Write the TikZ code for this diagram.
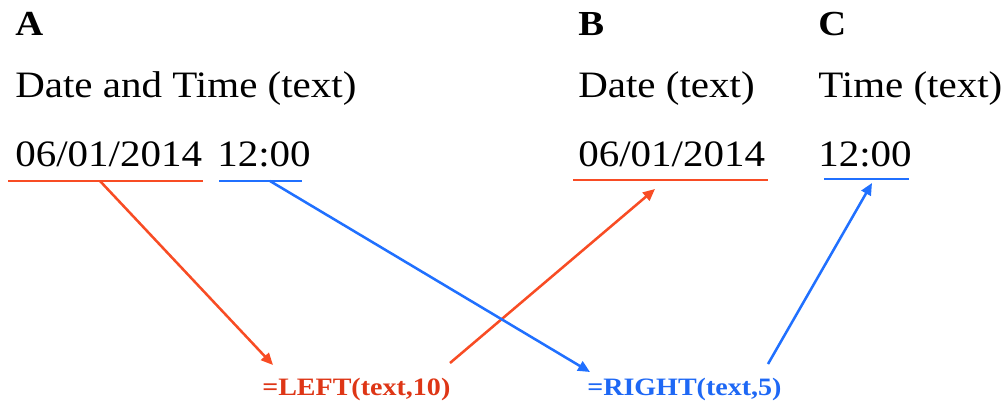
\documentclass[tikz,border=0pt]{standalone}
\usepackage{fontspec}
\setmainfont{Liberation Serif}[FakeStretch=1.1]
\newfontfamily\formfont{Liberation Serif}[FakeStretch=1.12]
\usetikzlibrary{arrows.meta}
\definecolor{cutred}{RGB}{248,76,36}
\definecolor{cutblue}{RGB}{32,112,255}
\definecolor{formred}{RGB}{222,54,22}
\definecolor{formblue}{RGB}{30,104,245}

\begin{document}
\begin{tikzpicture}[x=0.025cm, y=-0.025cm,
  head/.style = {anchor=base west, inner sep=0, font=\fontsize{25}{30}\selectfont\bfseries},
  txt/.style = {anchor=base west, inner sep=0, font=\fontsize{26.5}{32}\selectfont},
  form/.style = {anchor=base west, inner sep=0, font=\formfont\fontsize{17.8}{21}\selectfont\bfseries},
  uline/.style = {line width=2.1pt},
  link/.style = {line width=1.8pt, -{Triangle[length=8.5pt, width=7.5pt]}}]
  \useasboundingbox (0,0) rectangle (1007,404);

  % column heads
  \node[head] (A) at (15,35) {A};
  \node[head] (B) at (578,35) {B};
  \node[head] (C) at (818,35) {C};

  \node[txt] (dtname) at (15,97) {Date and Time (text)};
  \node[txt] (dname) at (578,97) {Date (text)};
  \node[txt] (tname) at (818,97) {Time (text)};

  % values
  \node[txt] (dtdate) at (15,166) {06/01/2014};
  \node[txt] (dttime) at (217,166) {12:00};
  \node[txt] (date) at (578,166) {06/01/2014};
  \node[txt] (time) at (818,166) {12:00};

  % formulas
  \node[form, text=formred] (left) at (262,395) {=LEFT(text,10)};
  \node[form, text=formblue] (right) at (587,395) {=RIGHT(text,5)};

  % underlines
  \coordinate (u1a) at (8,181);   \coordinate (u1b) at (203,181);
  \coordinate (u2a) at (219,181); \coordinate (u2b) at (302,181);
  \coordinate (u3a) at (573,180); \coordinate (u3b) at (768,180);
  \coordinate (u4a) at (824,179); \coordinate (u4b) at (909,179);
  \draw[uline, cutred] (u1a) -- (u1b);
  \draw[uline, cutblue] (u2a) -- (u2b);
  \draw[uline, cutred] (u3a) -- (u3b);
  \draw[uline, cutblue] (u4a) -- (u4b);

  % arrows
  \coordinate (s1) at (100,181); \coordinate (e1) at (273,365);
  \coordinate (s2) at (450,363); \coordinate (e2) at (655,189);
  \coordinate (s3) at (270,181); \coordinate (e3) at (590,372);
  \coordinate (s4) at (768,364); \coordinate (e4) at (872,183);
  \draw[link, cutred] (s1) -- (e1);
  \draw[link, cutred] (s2) -- (e2);
  \draw[link, cutblue] (s3) -- (e3);
  \draw[link, cutblue] (s4) -- (e4);
\end{tikzpicture}
\end{document}
